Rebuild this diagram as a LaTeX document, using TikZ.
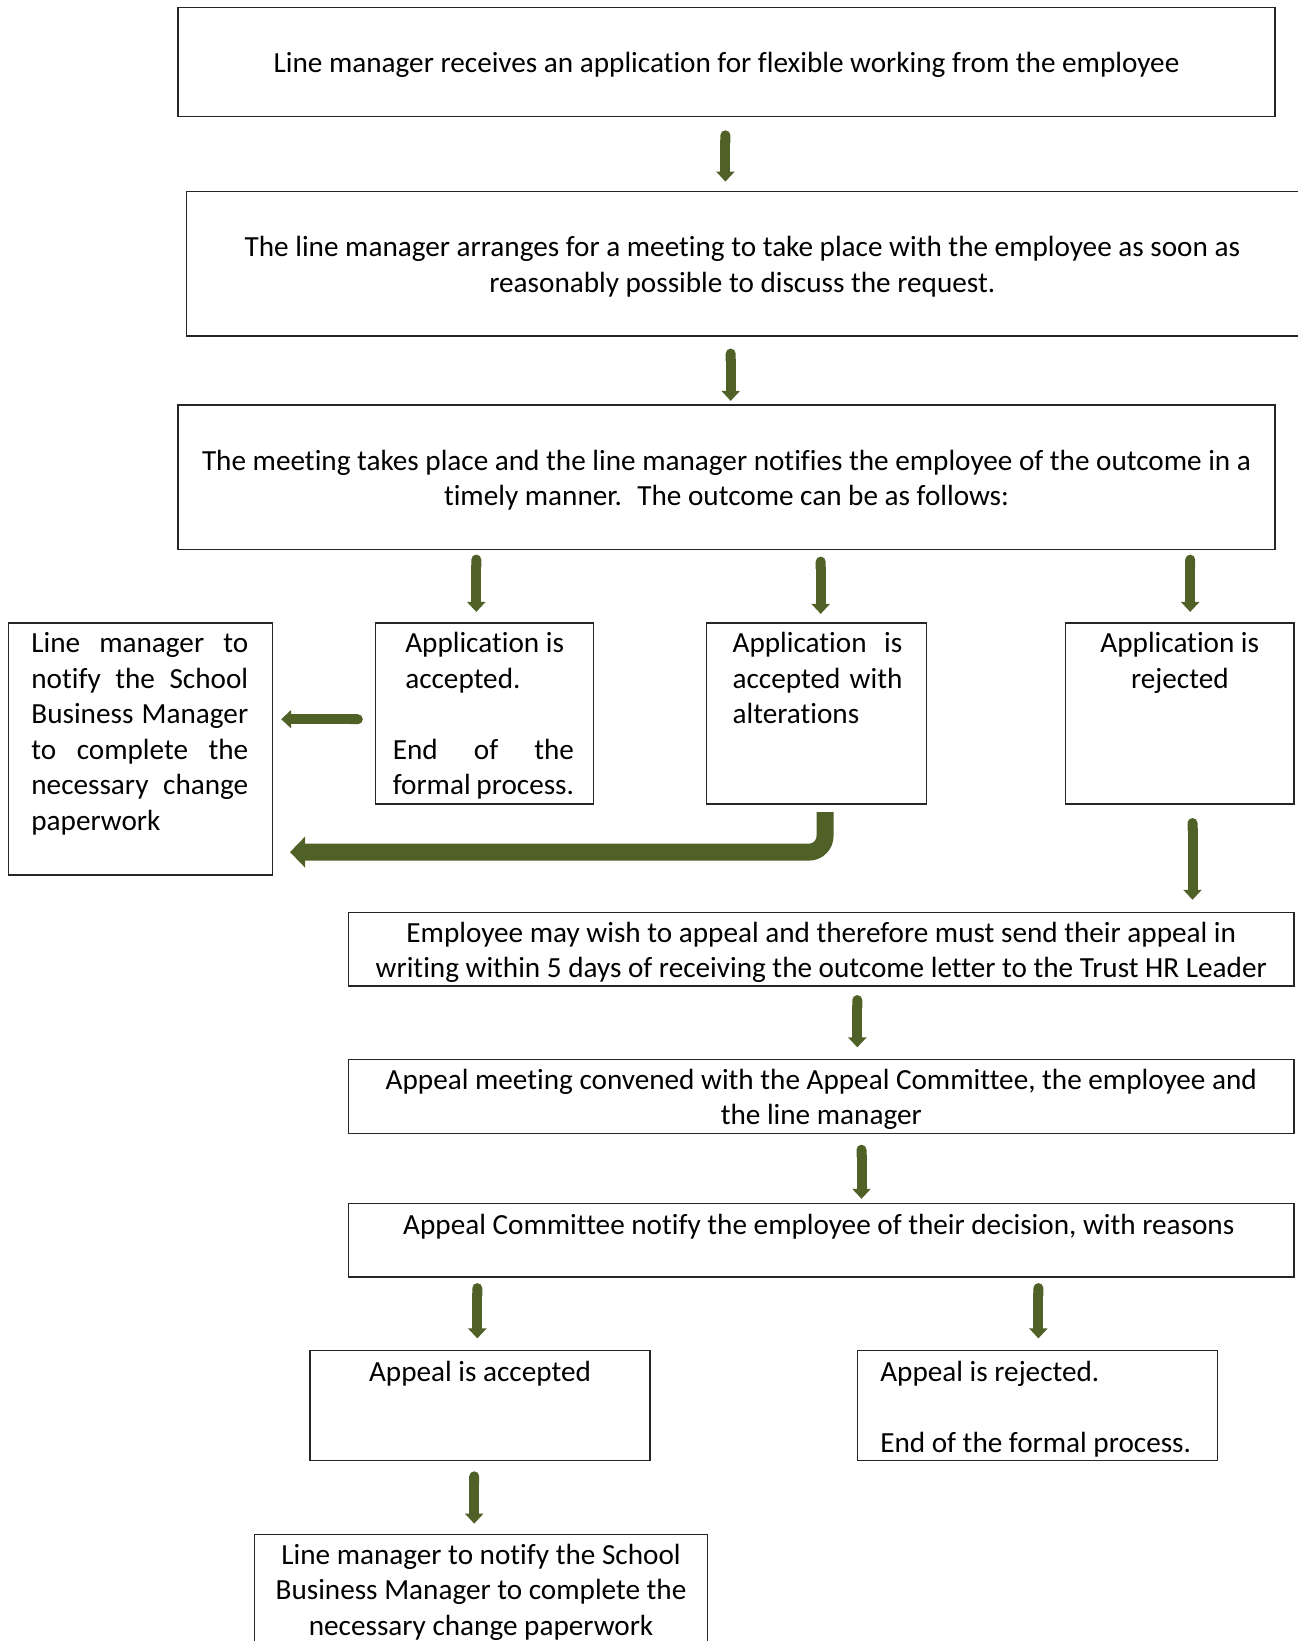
\documentclass[tikz,border=0pt]{standalone}
\usepackage{fontspec}
\setmainfont[Ligatures=NoCommon]{Carlito}
\usetikzlibrary{arrows.meta}
\definecolor{agreen}{RGB}{80,97,40}
\newdimen\uu \uu=0.5pt
\tikzset{
  box/.style={draw=black!85, line width=0.65pt, inner sep=0pt, outer sep=0pt, anchor=north west,
    font=\fontsize{14.6}{17.8}\selectfont},
  thinarr/.style={draw=agreen, line width=5pt, arrows={Round Cap[]-Triangle[width=9pt,length=5pt]}},
  bigarr/.style={draw=agreen, line width=8.5pt, rounded corners=8pt, -{Triangle[width=15pt,length=7.5pt]}},
}
% name, x, y, w, h, padL, padR, vpos, content  (all in px)
\newcommand\flowbox[9]{%
  \node[box] (#1) at (#2,#3) {\hspace*{#6\uu}\parbox[c][#5\uu][#8]{\dimexpr#4\uu-#6\uu-#7\uu\relax}{#9}\hspace*{#7\uu}};}
\begin{document}
\begin{tikzpicture}[x=0.5pt,y=-0.5pt]
\useasboundingbox (0,0) rectangle (1297,1641);
\flowbox{b1}{178}{7.3}{1097}{109}{0}{0}{c}{\vspace*{3pt}\centering Line manager receives an application for flexible working from the employee}
\flowbox{b2}{186.3}{191.6}{1134}{144.4}{0}{22}{c}{\vspace*{3pt}\centering The line manager arranges for a meeting to take place with the employee as soon as\\ reasonably possible to discuss the request.}
\flowbox{b3}{178}{405.1}{1097}{144.5}{0}{0}{c}{\vspace*{3pt}\centering The meeting takes place and the line manager notifies the employee of the outcome in a\\ timely manner.~ The outcome can be as follows:}
\flowbox{lbox}{8.4}{622.9}{263.8}{252.2}{23}{24}{t}{\vspace*{2.3pt}\strut Line\hfill manager\hfill to\\notify\hfill the\hfill School\\Business\hfill Manager\\to\hfill complete\hfill the\\necessary\hfill change\\paperwork}
\flowbox{acc}{375.8}{622.9}{217.7}{181.1}{17}{19.5}{t}{\vspace*{2.3pt}\strut\hspace*{6.25pt}Application is\\\hspace*{6.25pt}accepted.\\[\baselineskip]End\hfill of\hfill the\\formal process.}
\flowbox{alt}{706.6}{622.9}{219.8}{181.1}{26}{24}{t}{\vspace*{2.3pt}\strut Application\hfill is\\accepted\hfill with\\alterations}
\flowbox{rej}{1065.7}{622.9}{228.2}{181.1}{0}{0}{t}{\vspace*{2.3pt}\centering\strut Application is\\rejected}
\flowbox{emp}{348.6}{912.8}{945.3}{73.3}{0}{0}{c}{\vspace*{3pt}\centering Employee may wish to appeal and therefore must send their appeal in\\writing within 5 days of receiving the outcome letter to the Trust HR Leader}
\flowbox{meet}{348.6}{1059.4}{945.3}{74.3}{0}{0}{c}{\vspace*{3pt}\centering Appeal meeting convened with the Appeal Committee, the employee and\\the line manager}
\flowbox{note}{348.6}{1203.8}{945.3}{73.3}{0}{5}{t}{\vspace*{2.9pt}\centering\strut Appeal Committee notify the employee of their decision, with reasons}
\flowbox{aacc}{309.9}{1350.4}{340.2}{109.9}{0}{0}{t}{\vspace*{2.9pt}\centering\strut Appeal is accepted}
\flowbox{arej}{857.3}{1350.4}{360.1}{109.9}{23}{0}{t}{\vspace*{2.9pt}\strut Appeal is rejected.\\[\baselineskip]End of the formal process.}
\flowbox{bot}{254.4}{1534.6}{453.2}{125}{0}{0}{t}{\vspace*{2.4pt}\centering\strut Line manager to notify the School\\Business Manager to complete the\\necessary change paperwork}
% arrows
\draw[thinarr, shorten <=7pt, shorten >=5pt] (725.4,0 |- b1.south) -- (725.4,0 |- b2.north);
\draw[thinarr, shorten <=6.3pt, shorten >=2.1pt] (730.7,0 |- b2.south) -- (730.7,0 |- b3.north);
\draw[thinarr, shorten <=2.5pt, shorten >=5.5pt] (476.3,0 |- b3.south) -- (476.3,0 |- acc.north);
\draw[thinarr, shorten <=3.5pt, shorten >=4.5pt] (820.7,0 |- b3.south) -- (820.7,0 |- alt.north);
\draw[thinarr, shorten <=2.5pt, shorten >=5.5pt] (1190.2,0 |- b3.south) -- (1190.2,0 |- rej.north);
\draw[thinarr, shorten <=6.5pt, shorten >=4.5pt] (acc.west |- 0,719.2) -- (lbox.east |- 0,719.2);
\draw[bigarr, shorten <=4pt, shorten >=8.9pt] (825,0 |- alt.south) |- (lbox.east |- 0,852.1);
\draw[thinarr, shorten <=7pt, shorten >=6.5pt] (1192.5,0 |- rej.south) -- (1192.5,0 |- emp.north);
\draw[thinarr, shorten <=4.5pt, shorten >=6pt] (857.3,0 |- emp.south) -- (857.3,0 |- meet.north);
\draw[thinarr, shorten <=5.5pt, shorten >=2.5pt] (861.5,0 |- meet.south) -- (861.5,0 |- note.north);
\draw[thinarr, shorten <=3pt, shorten >=6pt] (477.3,0 |- note.south) -- (477.3,0 |- aacc.north);
\draw[thinarr, shorten <=3pt, shorten >=6pt] (1038.4,0 |- note.south) -- (1038.4,0 |- arej.north);
\draw[thinarr, shorten <=5.5pt, shorten >=5.5pt] (474.2,0 |- aacc.south) -- (474.2,0 |- bot.north);
\end{tikzpicture}
\end{document}
